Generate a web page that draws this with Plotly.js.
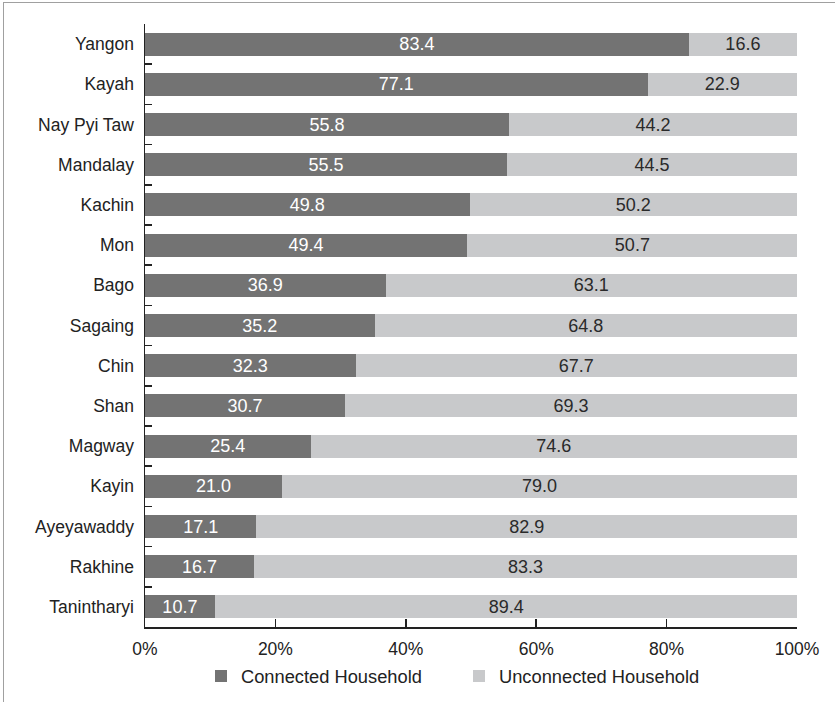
<!DOCTYPE html>
<html>
<head>
<meta charset="utf-8">
<script src="https://cdn.plot.ly/plotly-3.0.1.min.js"></script>
<style>
  html, body { margin: 0; padding: 0; background: #fff; }
  #wrap { position: relative; width: 835px; height: 702px; }
  #frame { position: absolute; left: 3px; top: 2px; right: 0; bottom: 0;
           border-top: 1px solid #a0a0a0; border-left: 1px solid #a0a0a0;
           pointer-events: none; }
  #chart { width: 835px; height: 702px; }
</style>
</head>
<body>
<div id="wrap">
  <div id="chart"></div>
  <div id="frame"></div>
</div>
<script>
// Household electricity connection by state/region (%)
const regions = ["Yangon", "Kayah", "Nay Pyi Taw", "Mandalay", "Kachin", "Mon", "Bago",
                 "Sagaing", "Chin", "Shan", "Magway", "Kayin", "Ayeyawaddy", "Rakhine", "Tanintharyi"];
const connected   = [83.4, 77.1, 55.8, 55.5, 49.8, 49.4, 36.9, 35.2, 32.3, 30.7, 25.4, 21.0, 17.1, 16.7, 10.7];
const unconnected = [16.6, 22.9, 44.2, 44.5, 50.2, 50.7, 63.1, 64.8, 67.7, 69.3, 74.6, 79.0, 82.9, 83.3, 89.4];
const xTickVals = [0, 20, 40, 60, 80, 100];
const xTickText = ["0%", "20%", "40%", "60%", "80%", "100%"];

const FONT = "Liberation Sans, Arial, sans-serif";
const INK = "#222222";
const W = 835, H = 702;

const traces = [
  {
    type: "bar", orientation: "h", name: "Connected Household", legend: "legend",
    y: regions, x: connected,
    text: connected.map(v => v.toFixed(1)),
    textposition: "inside", insidetextanchor: "middle", constraintext: "none",
    textfont: { family: FONT, size: 18, color: "#ffffff" },
    marker: { color: "#737373" },
    hoverinfo: "none"
  },
  {
    type: "bar", orientation: "h", name: "Unconnected Household", legend: "legend2",
    y: regions, x: unconnected,
    text: unconnected.map(v => v.toFixed(1)),
    textposition: "inside", insidetextanchor: "middle", constraintext: "none",
    textfont: { family: FONT, size: 18, color: "#2a2a2a" },
    marker: { color: "#c8c9cb" },
    hoverinfo: "none"
  }
];

// one legend box per series so the two entries can sit apart
function legendAt(leftPx) {
  return {
    xref: "container", yref: "container",
    x: leftPx / W, xanchor: "left",
    y: 1 - 676 / H, yanchor: "middle",
    orientation: "h",
    font: { family: FONT, size: 18.3, color: INK },
    itemwidth: 30, bgcolor: "rgba(0,0,0,0)"
  };
}

const layout = {
  width: W, height: H,
  margin: { l: 145, r: 38, t: 24, b: 75, autoexpand: false },
  paper_bgcolor: "#ffffff", plot_bgcolor: "#ffffff",
  barmode: "stack", bargap: 0.43,
  font: { family: FONT, size: 17, color: INK },
  showlegend: true,
  legend: legendAt(201),
  legend2: legendAt(459),
  xaxis: {
    range: [0, 100], tickvals: xTickVals, ticktext: xTickText,
    showgrid: false, zeroline: false,
    showline: true, linecolor: INK, linewidth: 1.5,
    ticks: "inside", ticklen: 8, tickcolor: INK, tickwidth: 1.5,
    ticklabelstandoff: 5,
    tickfont: { family: FONT, size: 17.5, color: INK }
  },
  yaxis: {
    type: "category", categoryorder: "array", categoryarray: regions,
    autorange: "reversed",
    showgrid: false, zeroline: false,
    showline: true, linecolor: INK, linewidth: 1.5,
    ticks: "inside", tickson: "boundaries", ticklen: 7, tickcolor: INK, tickwidth: 1.5,
    ticklabelstandoff: 6,
    tickfont: { family: FONT, size: 17.5, color: INK }
  }
};

Plotly.newPlot("chart", traces, layout, { displayModeBar: false, staticPlot: true });
</script>
</body>
</html>
